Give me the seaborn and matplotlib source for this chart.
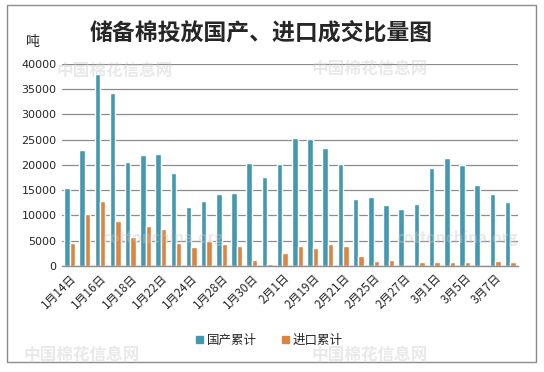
import matplotlib
matplotlib.use("Agg")
import matplotlib.pyplot as plt
import seaborn as sns
import pandas as pd
from matplotlib.patches import Rectangle

# dates of the auction days
dates = ["1月14日", "1月15日", "1月16日", "1月17日", "1月18日", "1月21日", "1月22日",
         "1月23日", "1月24日", "1月25日", "1月28日", "1月29日", "1月30日", "1月31日",
         "2月1日", "2月18日", "2月19日", "2月20日", "2月21日", "2月22日", "2月25日",
         "2月26日", "2月27日", "2月28日", "3月1日", "3月4日", "3月5日", "3月6日",
         "3月7日", "3月8日"]

# tons
domestic = [15500, 23000, 38000, 34300, 20600, 22000, 22200, 18400, 11700, 12900,
            14300, 14500, 20400, 17600, 20200, 25300, 25100, 23400, 20200, 13300,
            13700, 12100, 11300, 12300, 19400, 21400, 19900, 16000, 14300, 12700]
imported = [4600, 10200, 12900, 8900, 5800, 7900, 7300, 4600, 3800, 5000,
            4400, 4000, 1200, 400, 2600, 4000, 3600, 4400, 4000, 2000,
            1000, 1200, 0, 800, 800, 800, 800, 0, 1000, 800]

series_names = ["国产累计", "进口累计"]
colors = ["#4498AF", "#DB8540"]

df = pd.DataFrame({
    "date": dates * 2,
    "value": domestic + imported,
    "series": [series_names[0]] * len(dates) + [series_names[1]] * len(dates),
})

sns.set_style("white")
plt.rcParams["font.family"] = ["Noto Sans CJK SC", "DejaVu Sans"]

fig = plt.figure(figsize=(5.44, 3.72), dpi=100)
ax = fig.add_axes([0.114, 0.285, 0.838, 0.543])

sns.barplot(data=df, x="date", y="value", hue="series", palette=colors,
            width=0.72, saturation=1, ax=ax, legend=False)

ax.set_ylim(0, 40000)
ax.set_xlim(-0.5, len(dates) - 0.5)
ax.set_yticks(range(0, 40001, 5000))
ax.set_yticklabels([str(v) for v in range(0, 40001, 5000)], fontsize=8,
                   family="DejaVu Sans")
ax.set_xticks(range(0, len(dates), 2))
ax.set_xticklabels(dates[::2], rotation=45, ha="right", rotation_mode="anchor",
                   fontsize=8.5)
ax.tick_params(axis="both", length=0, pad=4)
ax.set_xlabel("")
ax.set_ylabel("")
ax.grid(axis="y", color="#8c8c8c", linewidth=0.9)
ax.set_axisbelow(True)
for s in ["top", "right", "left"]:
    ax.spines[s].set_visible(False)
ax.spines["bottom"].set_color("#8c8c8c")
ax.spines["bottom"].set_linewidth(1.0)

# title and unit
fig.text(0.48, 0.91, "储备棉投放国产、进口成交比量图", fontsize=16.5,
         fontweight="bold", ha="center", va="center")
fig.text(0.061, 0.887, "吨", fontsize=10, ha="center", va="center")

# legend at the bottom
handles = [Rectangle((0, 0), 1, 1, color=c) for c in colors]
fig.legend(handles, series_names, loc="center", bbox_to_anchor=(0.495, 0.085),
           ncol=2, frameon=False, fontsize=9, handlelength=0.6, handleheight=0.6,
           handletextpad=0.3, columnspacing=2.0)

# watermarks
wm = dict(color="#c8c8c8", alpha=0.4, fontweight="bold", zorder=5)
fig.text(0.21, 0.81, "中国棉花信息网", fontsize=12, ha="center", va="center", **wm)
fig.text(0.68, 0.815, "中国棉花信息网", fontsize=12, ha="center", va="center", **wm)
fig.text(0.15, 0.045, "中国棉花信息网", fontsize=12, ha="center", va="center", **wm)
fig.text(0.68, 0.045, "中国棉花信息网", fontsize=12, ha="center", va="center", **wm)
fig.text(0.30, 0.36, "cottonchina.org", fontsize=11, ha="center", va="center", **wm)
fig.text(0.84, 0.36, "cottonchina.org", fontsize=11, ha="center", va="center", **wm)

# outer frame
fig.patches.append(Rectangle((7 / 544, 1 - 362 / 372), 529 / 544, 357 / 372,
                             transform=fig.transFigure, fill=False,
                             edgecolor="#8c8c8c", linewidth=1.0))

fig.savefig("out.png", dpi=100)
